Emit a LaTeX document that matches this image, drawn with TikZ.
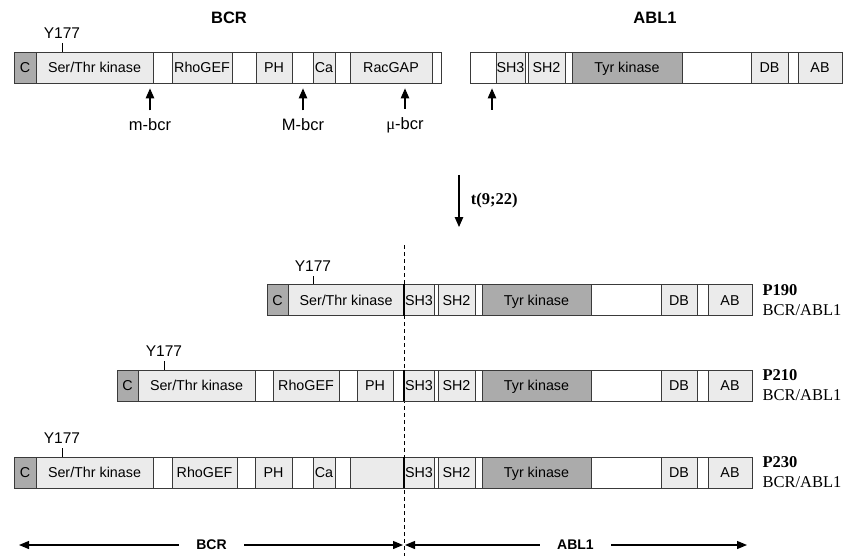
\documentclass[tikz,border=0pt]{standalone}
\usepackage{fontspec}
\setmainfont{Liberation Serif}
\setsansfont{Liberation Sans}
\usetikzlibrary{arrows.meta,positioning,calc}
\definecolor{domline}{HTML}{3A3A3A}
\definecolor{domdark}{HTML}{ABABAB}
\definecolor{domlight}{HTML}{EBEBEB}
\tikzset{
  dom/.style={
    draw=domline,line width=.8pt,minimum height=31pt,
    inner sep=0pt,text height=10.2pt,text depth=0pt,
    font=\sffamily\fontsize{14.3}{16}\selectfont
  },
  genetitle/.style={font=\sffamily\bfseries\fontsize{16.5}{18}\selectfont},
  site/.style={anchor=south,inner sep=4pt,font=\sffamily\fontsize{15.5}{17}\selectfont},
  brk/.style={font=\sffamily\fontsize{16.5}{18}\selectfont},
  rowlab/.style={align=left,inner sep=0pt,font=\rmfamily\fontsize{16.5}{20}\selectfont},
  arrow/.style={-{Triangle[length=10pt,width=8.5pt]},line width=1.1pt},
  span/.style={{Triangle[length=10pt,width=8pt]}-{Triangle[length=10pt,width=8pt]},line width=1.2pt},
  spanlab/.style={fill=white,inner xsep=17pt,font=\sffamily\bfseries\fontsize{14}{16}\selectfont},
  junction/.style={line width=2pt},
  fusionline/.style={dash pattern=on 4pt off 3pt,line width=.9pt}
}
% one bar of domains: prefix, y, list of x1/x2/colour/text
\newcommand{\domrow}[3]{%
  \foreach \xa/\xb/\col/\txt [count=\i] in {#3}{%
    \pgfmathsetmacro\w{\xb-\xa}%
    \node[dom,fill=\col,minimum width=\w pt] (#1\i) at ({(\xa+\xb)/2},#2) {\txt};
  }%
}
% ABL1 part of a fusion bar
\newcommand{\ablrow}[2]{%
  \domrow{#1}{#2}{404/434/domlight/SH3, 434/438/white/{}, 438/475/domlight/SH2,
    475/482/white/{}, 482/591/domdark/{Tyr kinase}, 591/661/white/{},
    661/697/domlight/DB, 697/708/white/{}, 708/752/domlight/AB}%
}

\begin{document}
\begin{tikzpicture}[x=1pt,y=-1pt]
\useasboundingbox (0,0) rectangle (845,556);

% breakpoint line
\coordinate (jtop) at (404,245);
\coordinate (jbot) at (404,556);
\draw[fusionline] (jtop) -- (jbot);

% normal genes
\node[genetitle] (bcrtitle) at (229,18) {BCR};
\node[genetitle] (abltitle) at (655,18) {ABL1};

\domrow{bcr}{67.5}{14/36/domdark/C, 36/153/domlight/{Ser/Thr kinase}, 153/172/white/{},
  172/232/domlight/RhoGEF, 232/256/white/{}, 256/292/domlight/PH, 292/313/white/{},
  313/335/domlight/Ca, 335/350/white/{}, 350/432/domlight/RacGAP, 432/441/white/{}}
\domrow{abl}{67.5}{470/496/white/{}, 496/525/domlight/SH3, 525/528/white/{},
  528/565/domlight/SH2, 565/572/white/{}, 572/682/domdark/{Tyr kinase},
  682/751/white/{}, 751/788/domlight/DB, 788/798/white/{}, 798/842/domlight/AB}

\node[site] (ybcr) at (62,43) {Y177};
\draw (ybcr.south) -- (ybcr.south |- bcr2.north);

\node[brk] (mbcr) at (150,125) {m-bcr};
\node[brk] (Mbcr) at (303,125) {M-bcr};
\node[brk] (ubcr) at (405,125) {{\rmfamily μ}-bcr};
\coordinate (ablbrk) at (492,110);
\draw[arrow,shorten <=5pt,shorten >=5pt] (mbcr.north) -- (mbcr.north |- bcr3.south);
\draw[arrow,shorten <=5pt,shorten >=5pt] (Mbcr.north) -- (Mbcr.north |- bcr7.south);
\draw[arrow,shorten <=5pt,shorten >=5pt] (ubcr.north) -- (ubcr.north |- bcr10.south);
\draw[arrow,shorten >=5pt] (ablbrk) -- (ablbrk |- abl1.south);

% translocation
\coordinate (tfrom) at (459,175);
\coordinate (tto) at (459,227);
\draw[arrow] (tfrom) -- node[right=8pt,font=\rmfamily\bfseries\fontsize{16.5}{18}\selectfont] (tlab) {t(9;22)} (tto);

% P190
\domrow{p190a}{300}{267/288/domdark/C, 288/404/domlight/{Ser/Thr kinase}}
\ablrow{p190b}{300}
\node[site] (y190) at (313,276) {Y177};
\draw (y190.south) -- (y190.south |- p190a2.north);
\draw[junction] (p190b1.north west) -- (p190b1.south west);
\node[rowlab,right=10pt of p190b9] (l190) {\textbf{P190}\\BCR/ABL1};

% P210
\domrow{p210a}{385.5}{117/138/domdark/C, 138/255/domlight/{Ser/Thr kinase}, 255/273/white/{},
  273/339/domlight/RhoGEF, 339/357/white/{}, 357/393/domlight/PH, 393/404/white/{}}
\ablrow{p210b}{385.5}
\node[site] (y210) at (164,361) {Y177};
\draw (y210.south) -- (y210.south |- p210a2.north);
\draw[junction] (p210b1.north west) -- (p210b1.south west);
\node[rowlab,right=10pt of p210b9] (l210) {\textbf{P210}\\BCR/ABL1};

% P230
\domrow{p230a}{472.5}{14/36/domdark/C, 36/153/domlight/{Ser/Thr kinase}, 153/172/white/{},
  172/237/domlight/RhoGEF, 237/255/white/{}, 255/292/domlight/PH, 292/313/white/{},
  313/335/domlight/Ca, 335/350/white/{}, 350/404/domlight/{}}
\ablrow{p230b}{472.5}
\node[site] (y230) at (62,448) {Y177};
\draw (y230.south) -- (y230.south |- p230a2.north);
\draw[junction] (p230b1.north west) -- (p230b1.south west);
\node[rowlab,right=10pt of p230b9] (l230) {\textbf{P230}\\BCR/ABL1};

% origin of the fusion parts
\coordinate (spanL) at (19,545);
\coordinate (spanM) at (404,545);
\coordinate (spanR) at (747,545);
\draw[span,shorten >=1pt] (spanL) -- node[spanlab] (bcrspan) {BCR} (spanM);
\draw[span,shorten <=1pt] (spanM) -- node[spanlab] (ablspan) {ABL1} (spanR);
\end{tikzpicture}
\end{document}
